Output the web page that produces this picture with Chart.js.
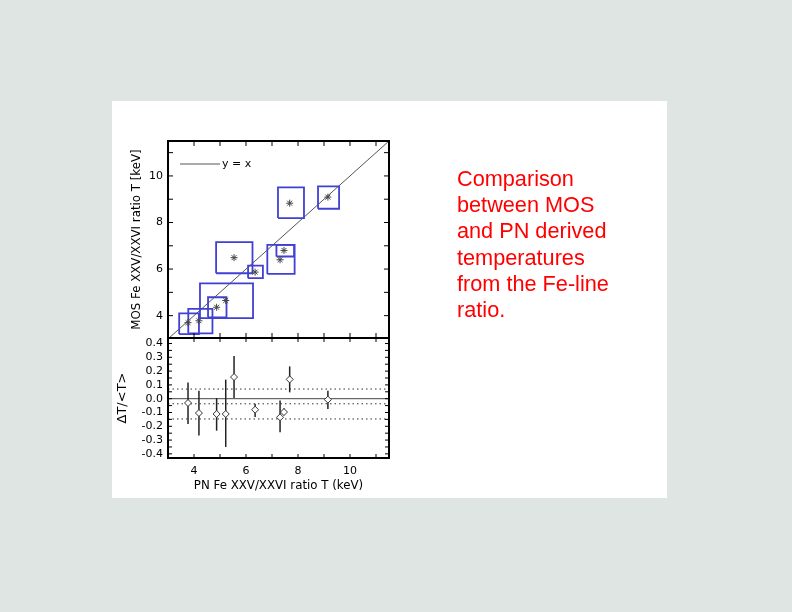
<!DOCTYPE html>
<html>
<head>
<meta charset="utf-8">
<script src="https://cdn.jsdelivr.net/npm/chart.js@4.4.1/dist/chart.umd.min.js"></script>
<style>
    html, body {margin: 0; padding: 0;}
    body {width: 792px; height: 612px; background: #dfe5e3; position: relative; overflow: hidden;}
    #panel {position: absolute; left: 112px; top: 101px; width: 555px; height: 397px; background: #ffffff;}
    #temperature_canvas {position: absolute; left: 0; top: 0;}
    #caption {position: absolute; left: 457px; top: 166px; font-family: "Liberation Sans", Arial, sans-serif;
              font-size: 21.7px; line-height: 26.2px; color: #ff0000;}
</style>
</head>
<body>
<div id="panel"></div>
<canvas id="temperature_canvas" width="792" height="612"></canvas>
<div id="caption">Comparison<br>between MOS<br>and PN derived<br>temperatures<br>from the Fe-line<br>ratio.</div>
<script>
// PN temperature (x) and its error box
const pn_temperature = [3.77, 4.19, 4.87, 5.22, 5.54, 6.35, 7.31, 7.46, 7.68, 9.15];
const pn_low = [3.43, 3.78, 4.54, 4.23, 4.85, 6.08, 6.82, 7.17, 7.23, 8.77];
const pn_high = [4.19, 4.71, 5.25, 6.27, 6.25, 6.65, 7.87, 7.85, 8.23, 9.58];

// MOS temperature (y) and its error box
const mos_temperature = [3.70, 3.78, 4.36, 4.65, 6.49, 5.87, 6.40, 6.80, 8.83, 9.09];
const mos_low = [3.21, 3.24, 3.93, 3.89, 5.82, 5.61, 5.79, 6.54, 8.19, 8.59];
const mos_high = [4.10, 4.29, 4.79, 5.39, 7.16, 6.15, 7.04, 7.04, 9.51, 9.55];

// dT/<T> with error bars
const relative_difference = [-0.031, -0.104, -0.111, -0.111, 0.157, -0.080, -0.135, -0.097, 0.140, -0.007];
const relative_difference_low = [-0.183, -0.266, -0.232, -0.350, 0.005, -0.133, -0.244, -0.120, 0.046, -0.075];
const relative_difference_high = [0.118, 0.058, 0.005, 0.138, 0.310, -0.036, -0.014, -0.070, 0.234, 0.058];

// mean and +-1 sigma of dT/<T>
const difference_levels = [0.07, -0.037, -0.147];
const zero_level = 0;

const temperature_range = [3.0, 11.5];
const mos_range = [3.04, 11.5];
const difference_range = [-0.43, 0.44];

const temperature_ticks = [4, 6, 8, 10];
const temperature_minor_ticks = [4, 5, 6, 7, 8, 9, 10, 11];
const difference_ticks = [-0.4, -0.3, -0.2, -0.1, 0.0, 0.1, 0.2, 0.3, 0.4];
const difference_minor_ticks = [-0.4, -0.35, -0.3, -0.25, -0.2, -0.15, -0.1, -0.05, 0, 0.05, 0.1, 0.15, 0.2, 0.25, 0.3, 0.35, 0.4];

const axis_font = {family: "DejaVu Sans", size: 11};
const title_font = {family: "DejaVu Sans", size: 11.8};

function build_datasets() {
    let datasets = [];

    const line_start = Math.max(temperature_range[0], mos_range[0]);
    const line_end = Math.min(temperature_range[1], mos_range[1]);
    datasets.push({
        label: "y = x",
        data: [{x: line_start, y: line_start}, {x: line_end, y: line_end}],
        showLine: true,
        borderColor: "#555555",
        borderWidth: 1,
        pointRadius: 0,
        yAxisID: "y",
        order: 5
    });

    for (let i = 0; i < pn_temperature.length; i++) {
        datasets.push({
            label: "box " + i,
            data: [
                {x: pn_low[i], y: mos_low[i]},
                {x: pn_high[i], y: mos_low[i]},
                {x: pn_high[i], y: mos_high[i]},
                {x: pn_low[i], y: mos_high[i]},
                {x: pn_low[i], y: mos_low[i]}
            ],
            showLine: true,
            borderColor: "#4040d4",
            borderWidth: 1.8,
            pointRadius: 0,
            yAxisID: "y",
            order: 4
        });
    }

    datasets.push({
        label: "MOS vs PN",
        data: pn_temperature.map((t, i) => ({x: t, y: mos_temperature[i]})),
        showLine: false,
        pointStyle: "star",
        pointRadius: 3.5,
        borderColor: "#444444",
        borderWidth: 1,
        yAxisID: "y",
        order: 1
    });

    datasets.push({
        label: "zero",
        data: [{x: temperature_range[0], y: zero_level}, {x: temperature_range[1], y: zero_level}],
        showLine: true,
        borderColor: "#444444",
        borderWidth: 1,
        pointRadius: 0,
        yAxisID: "y2",
        order: 5
    });

    for (const level of difference_levels) {
        datasets.push({
            label: "level " + level,
            data: [{x: temperature_range[0], y: level}, {x: temperature_range[1], y: level}],
            showLine: true,
            borderColor: "#333333",
            borderWidth: 1,
            borderDash: [1.5, 3],
            pointRadius: 0,
            yAxisID: "y2",
            order: 5
        });
    }

    for (let i = 0; i < pn_temperature.length; i++) {
        datasets.push({
            label: "error " + i,
            data: [
                {x: pn_temperature[i], y: relative_difference_low[i]},
                {x: pn_temperature[i], y: relative_difference_high[i]}
            ],
            showLine: true,
            borderColor: "#222222",
            borderWidth: 1.5,
            pointRadius: 0,
            yAxisID: "y2",
            order: 3
        });
    }

    datasets.push({
        label: "dT/<T>",
        data: pn_temperature.map((t, i) => ({x: t, y: relative_difference[i]})),
        showLine: false,
        pointStyle: "rectRot",
        pointRadius: 3.5,
        borderColor: "#333333",
        backgroundColor: "#ffffff",
        borderWidth: 1,
        yAxisID: "y2",
        order: 0
    });

    return datasets;
}

// IDL style frames with inward ticks, plus the little legend
const panel_frame_plugin = {
    id: "panel_frames",
    afterDatasetsDraw(chart) {
        const ctx = chart.ctx;
        const x_scale = chart.scales.x;
        const panels = [
            [chart.scales.y, temperature_minor_ticks, 5],
            [chart.scales.y2, difference_minor_ticks, 4]
        ];

        ctx.save();
        ctx.strokeStyle = "#000000";

        for (const [scale, minor_ticks, tick_length] of panels) {
            const left = x_scale.left;
            const right = x_scale.right;
            ctx.lineWidth = 1;
            ctx.beginPath();
            for (const v of temperature_minor_ticks) {
                const px = x_scale.getPixelForValue(v);
                ctx.moveTo(px, scale.top);
                ctx.lineTo(px, scale.top + tick_length);
                ctx.moveTo(px, scale.bottom);
                ctx.lineTo(px, scale.bottom - tick_length);
            }
            for (const v of minor_ticks) {
                const py = scale.getPixelForValue(v);
                ctx.moveTo(left, py);
                ctx.lineTo(left + tick_length, py);
                ctx.moveTo(right, py);
                ctx.lineTo(right - tick_length, py);
            }
            ctx.stroke();

            ctx.lineWidth = 2;
            ctx.strokeRect(left, scale.top, right - left, scale.bottom - scale.top);
        }

        const legend_y = chart.scales.y.top + 23;
        const legend_x = x_scale.left + 12;
        ctx.strokeStyle = "#555555";
        ctx.lineWidth = 1;
        ctx.beginPath();
        ctx.moveTo(legend_x, legend_y);
        ctx.lineTo(legend_x + 40, legend_y);
        ctx.stroke();
        ctx.fillStyle = "#000000";
        ctx.font = "11px 'DejaVu Sans'";
        ctx.textBaseline = "middle";
        ctx.fillText("y = x", legend_x + 42, legend_y);

        ctx.restore();
    }
};

let temperature_plot;

function setup_temperature_plot() {
    let config = {
        type: "scatter",
        data: {datasets: build_datasets()},
        options: {
            responsive: false,
            animation: false,
            layout: {
                padding: {left: 112, top: 141, right: 403, bottom: 114}
            },
            plugins: {
                legend: {display: false},
                tooltip: {enabled: false}
            },
            scales: {
                x: {
                    type: "linear",
                    position: "bottom",
                    min: temperature_range[0],
                    max: temperature_range[1],
                    grid: {display: false, drawTicks: false},
                    border: {display: false},
                    afterBuildTicks: function(scale) {
                        scale.ticks = temperature_ticks.map(v => ({value: v}));
                    },
                    afterFit: function(scale) {scale.height = 40;},
                    ticks: {
                        font: axis_font,
                        color: "#000000",
                        padding: 7,
                        autoSkip: false,
                        maxRotation: 0,
                        callback: function(value) {return String(value);}
                    },
                    title: {
                        display: true,
                        text: "PN Fe XXV/XXVI ratio T (keV)",
                        font: title_font,
                        color: "#000000",
                        padding: {top: 0, bottom: 5}
                    }
                },
                y: {
                    type: "linear",
                    position: "left",
                    stack: "panels",
                    stackWeight: 197,
                    weight: 1,
                    min: mos_range[0],
                    max: mos_range[1],
                    grid: {display: false, drawTicks: false},
                    border: {display: false},
                    afterBuildTicks: function(scale) {
                        scale.ticks = temperature_ticks.map(v => ({value: v}));
                    },
                    afterFit: function(scale) {scale.width = 56;},
                    ticks: {
                        font: axis_font,
                        color: "#000000",
                        padding: 5,
                        autoSkip: false,
                        callback: function(value) {return String(value);}
                    },
                    title: {
                        display: true,
                        text: "MOS Fe XXV/XXVI ratio T [keV]",
                        font: title_font,
                        color: "#000000",
                        padding: {top: 18, bottom: 0}
                    }
                },
                y2: {
                    type: "linear",
                    position: "left",
                    stack: "panels",
                    stackWeight: 120,
                    weight: 0,
                    min: difference_range[0],
                    max: difference_range[1],
                    grid: {display: false, drawTicks: false},
                    border: {display: false},
                    afterBuildTicks: function(scale) {
                        scale.ticks = difference_ticks.map(v => ({value: v}));
                    },
                    afterFit: function(scale) {scale.width = 56;},
                    ticks: {
                        font: axis_font,
                        color: "#000000",
                        padding: 5,
                        autoSkip: false,
                        callback: function(value) {return value.toFixed(1);}
                    },
                    title: {
                        display: true,
                        text: "ΔT/<T>",
                        font: {family: "DejaVu Sans", size: 13},
                        color: "#000000",
                        padding: {top: 3, bottom: 0}
                    }
                }
            }
        },
        plugins: [panel_frame_plugin]
    };

    temperature_plot = new Chart(
        document.getElementById("temperature_canvas"),
        config
    );
}

setup_temperature_plot();
</script>
</body>
</html>
